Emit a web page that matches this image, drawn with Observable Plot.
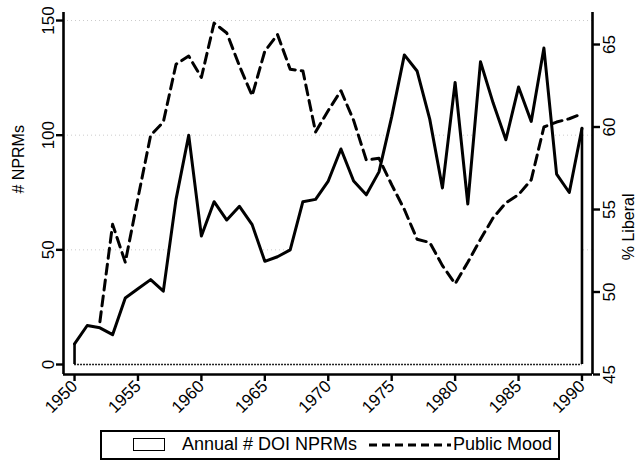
<!DOCTYPE html>
<html><head><meta charset="utf-8">
<script src="https://cdn.jsdelivr.net/npm/d3@7"></script>
<script src="https://cdn.jsdelivr.net/npm/@observablehq/plot@0.6"></script>
<style>
body{margin:0;background:#fff;}
#wrap{position:relative;width:641px;height:469px;font-family:"Liberation Sans",Arial,sans-serif;color:#000;}
#legend{position:absolute;left:100px;top:430px;width:456px;height:26px;border:2px solid #000;background:#fff;}
#legend .key{position:absolute;left:31px;top:6px;width:30px;height:11px;border:1.5px solid #000;background:#fff;}
#legend .t{position:absolute;top:2px;font-size:18px;white-space:nowrap;}
#legend svg{position:absolute;left:265px;top:6px;}
</style></head><body><div id="wrap"></div>
<script>
const years = [1950,1951,1952,1953,1954,1955,1956,1957,1958,1959,1960,1961,1962,1963,1964,1965,1966,1967,1968,1969,1970,1971,1972,1973,1974,1975,1976,1977,1978,1979,1980,1981,1982,1983,1984,1985,1986,1987,1988,1989,1990];
const nprms = [9,17,16,13,29,33,37,32,72,100,56,71,63,69,61,45,47,50,71,72,80,94,80,74,84,108,135,128,107,77,123,70,132,114,98,121,106,138,83,75,103];
const moodYears = [1952,1953,1954,1955,1956,1957,1958,1959,1960,1961,1962,1963,1964,1965,1966,1967,1968,1969,1970,1971,1972,1973,1974,1975,1976,1977,1978,1979,1980,1981,1982,1983,1984,1985,1986,1987,1988,1989,1990];
const mood = [48.2,54.1,51.8,55.7,59.5,60.3,63.8,64.3,63.0,66.3,65.7,63.7,61.9,64.6,65.6,63.5,63.4,59.7,61.0,62.2,60.4,58.0,58.1,56.5,55.0,53.2,53.0,51.6,50.5,51.8,53.2,54.5,55.4,55.9,56.8,60.0,60.3,60.5,60.8];
const leftTicks = [0,50,100,150];
const rightTicks = [45,50,55,60,65];
const xTicks = [1950,1955,1960,1965,1970,1975,1980,1985,1990];
const gridTicks = [50,100,150];
const leftTitle = "# NPRMs";
const rightTitle = "% Liberal";
const legendLabels = ["Annual # DOI NPRMs","Public Mood"];

// dual-axis mapping: mood (right scale) expressed in NPRM (left scale) units
const moodScale = 7.195, moodOffset = -4.36, moodBase = 45;
const toV = m => (m - moodBase) * moodScale + moodOffset;

const xDomain = [1949.13, 1990.83];
const yDomain = [-4.36, 153.5];

const nprmData = years.map((y,i)=>({year:y, n:nprms[i]}));
const moodData = moodYears.map((y,i)=>({year:y, v:toV(mood[i])}));
const edges = [nprmData[0], nprmData[nprmData.length-1]];

const W = 641, H = 424;
const chart = Plot.plot({
  width: W, height: H,
  marginLeft: 63, marginRight: 49, marginTop: 12, marginBottom: H - 374,
  x: {domain: xDomain, label: null},
  y: {domain: yDomain, label: null},
  style: {fontFamily: '"Liberation Sans", Arial, sans-serif', fontSize: "17px", color: "#000", background: "#fff", overflow: "visible"},
  marks: [
    Plot.gridY(gridTicks, {stroke: "#999", strokeOpacity: 0.5, strokeDasharray: "1,3"}),
    Plot.areaY(nprmData, {x: "year", y: "n", fill: "#fff"}),
    Plot.ruleY([0], {x1: years[0], x2: years[years.length-1], stroke: "#222", strokeWidth: 1.3, strokeDasharray: "2,1"}),
    Plot.ruleX(edges, {x: "year", y1: 0, y2: "n", stroke: "#000", strokeWidth: 2.6}),
    Plot.lineY(nprmData, {x: "year", y: "n", stroke: "#000", strokeWidth: 3}),
    Plot.lineY(moodData, {x: "year", y: "v", stroke: "#000", strokeWidth: 3, strokeDasharray: "10,6"}),
    Plot.ruleX([xDomain[0], xDomain[1]], {stroke: "#000", strokeWidth: 2.6}),
    Plot.ruleY([yDomain[0]], {stroke: "#000", strokeWidth: 2.6}),
    Plot.axisY(leftTicks, {anchor: "left", tickSize: 7, tickRotate: -90, tickPadding: 3, strokeWidth: 2.4, label: null, tickFormat: d => `${d}`}),
    Plot.axisY(rightTicks.map(toV), {anchor: "right", tickSize: 7, tickRotate: -90, lineAnchor: "top", tickPadding: 3, strokeWidth: 2.4, label: null, tickFormat: (d, i) => `${rightTicks[i]}`}),
    Plot.axisX(xTicks, {anchor: "bottom", tickSize: 7, tickRotate: -45, textAnchor: "end", tickPadding: 2, strokeWidth: 2.4, label: null, tickFormat: d => `${d}`}),
    Plot.text([leftTitle], {frameAnchor: "left", dx: -45, rotate: -90, fontSize: 16}),
    Plot.text([rightTitle], {frameAnchor: "right", dx: 36, rotate: -90, fontSize: 16})
  ]
});
const wrap = document.getElementById("wrap");
wrap.appendChild(chart);

const leg = document.createElement("div");
leg.id = "legend";
leg.innerHTML = `<div class="key"></div><span class="t" style="left:80px">${legendLabels[0]}</span>
<svg width="84" height="14"><line x1="2" y1="7" x2="84" y2="7" stroke="#000" stroke-width="3" stroke-dasharray="8,5"/></svg>
<span class="t" style="left:351px">${legendLabels[1]}</span>`;
wrap.appendChild(leg);
</script></body></html>
